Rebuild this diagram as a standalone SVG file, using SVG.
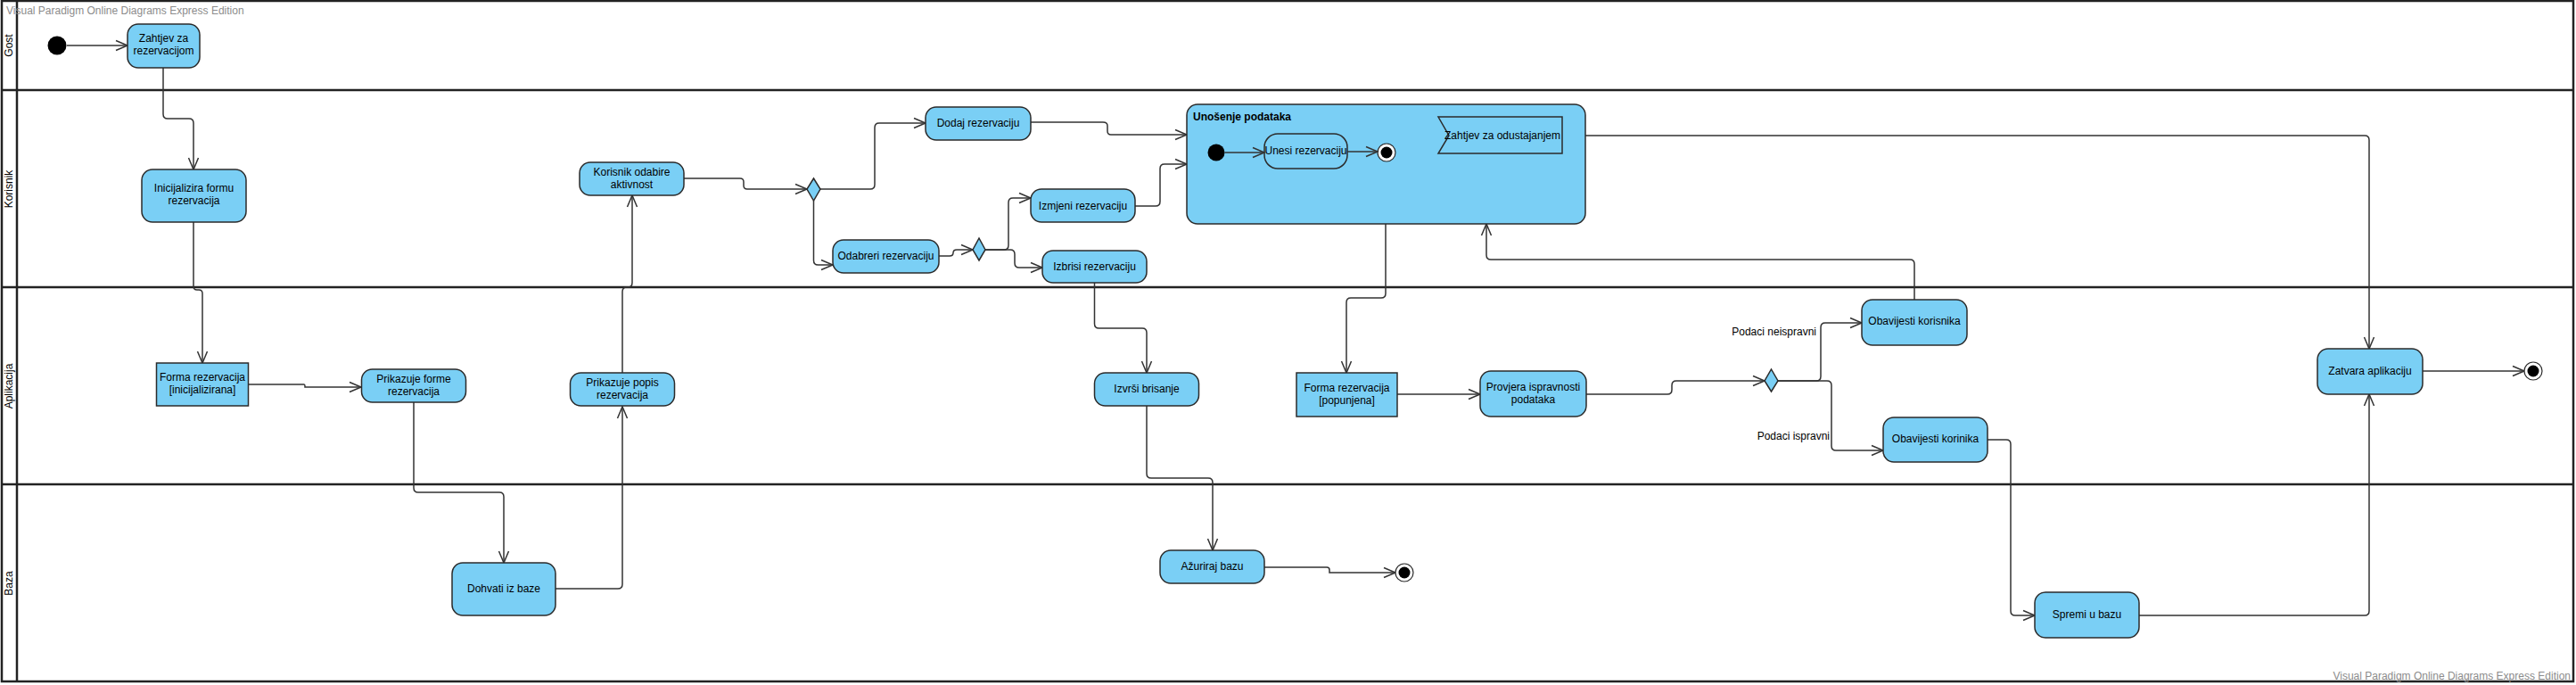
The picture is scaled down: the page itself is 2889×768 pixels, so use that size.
<svg xmlns="http://www.w3.org/2000/svg" width="2889" height="768" viewBox="0 0 2889 768">
<style>
text{font-family:"Liberation Sans",Arial,sans-serif;font-size:12px;fill:#000}
.t{text-anchor:middle;dominant-baseline:central}
.wm{fill:#8c8c8c;font-size:12px}
.lane{fill:none;stroke:#222;stroke-width:2.5}
.lbl{text-anchor:middle;dominant-baseline:central}
.act{fill:#7acff5;stroke:#2b2b2b;stroke-width:1.5}
.init{fill:#000}
.fo{fill:#fff;stroke:#2b2b2b;stroke-width:1.2}
.c{fill:none;stroke:#333;stroke-width:1.5;marker-end:url(#ah)}
</style>
<defs>
<marker id="ah" markerUnits="userSpaceOnUse" markerWidth="16" markerHeight="14" refX="14" refY="7" orient="auto">
<path d="M1 1.5 L14 7 L1 12.5" fill="none" stroke="#333" stroke-width="1.5"/>
</marker>
</defs>
<rect width="2889" height="768" fill="#fff"/>
<g id="lanes">
<rect class="lane" x="2" y="1" width="2884" height="763"/>
<line class="lane" x1="19" y1="1" x2="19" y2="764"/>
<line class="lane" x1="2" y1="101" x2="2886" y2="101"/>
<line class="lane" x1="2" y1="322" x2="2886" y2="322"/>
<line class="lane" x1="2" y1="543" x2="2886" y2="543"/>
<text class="lbl" transform="translate(10 51) rotate(-90)">Gost</text>
<text class="lbl" transform="translate(10 212) rotate(-90)">Korisnik</text>
<text class="lbl" transform="translate(10 433) rotate(-90)">Aplikacija</text>
<text class="lbl" transform="translate(10 654) rotate(-90)">Baza</text>
</g>
<text class="wm" x="7" y="16">Visual Paradigm Online Diagrams Express Edition</text>
<text class="wm" x="2883" y="762" text-anchor="end">Visual Paradigm Online Diagrams Express Edition</text>
<g id="connectors">
<path class="c" d="M75 51 H143"/>
<path class="c" d="M183 76 V128 Q183 133 188 133 H212 Q217 133 217 138 V190"/>
<path class="c" d="M217 249 V321 Q217 325 221 325 H223 Q227 325 227 329 V407"/>
<path class="c" d="M279 431 H341 Q342 431 342 433 V434 H405"/>
<path class="c" d="M464 451 V547 Q464 552 469 552 H560 Q565 552 565 557 V631"/>
<path class="c" d="M623 660 H693 Q698 660 698 655 V456"/>
<path class="c" d="M698 418 V327 Q698 322 703 322 H704 Q709 322 709 317 V219"/>
<path class="c" d="M767 200 H830 Q834 200 834 204 V208 Q834 212 838 212 H905"/>
<path class="c" d="M920 212 H976 Q981 212 981 207 V143 Q981 138 986 138 H1038"/>
<path class="c" d="M912.5 225 V292 Q912.5 297 917.5 297 H934"/>
<path class="c" d="M1053 287 H1065 Q1069 287 1069 283.5 Q1069 280 1073 280 H1091"/>
<path class="c" d="M1105 280 H1126 Q1131 280 1131 275 V227 Q1131 222 1136 222 H1156"/>
<path class="c" d="M1105 280 H1133 Q1138 280 1138 285 V295 Q1138 300 1143 300 H1169"/>
<path class="c" d="M1273 231 H1296 Q1301 231 1301 226 V189 Q1301 184 1306 184 H1331"/>
<path class="c" d="M1156 137 H1237 Q1242 137 1242 141 V147 Q1242 151 1246 151 H1331"/>
<path class="c" d="M1752 152 H2652 Q2657 152 2657 157 V391"/>
<path class="c" d="M2147 336 V296 Q2147 291 2142 291 H1672 Q1667 291 1667 286 V251"/>
<path class="c" d="M1554 251 V329 Q1554 334 1549 334 H1515 Q1510 334 1510 339 V418"/>
<path class="c" d="M1227.5 317 V363 Q1227.5 368 1232.5 368 H1281 Q1286 368 1286 373 V418"/>
<path class="c" d="M1286 455 V531 Q1286 536 1291 536 H1355 Q1360 536 1360 541 V617"/>
<path class="c" d="M1418 636 H1488 Q1491 636 1491 639 V642 H1565"/>
<path class="c" d="M1567 442 H1660"/>
<path class="c" d="M1779 442 H1870 Q1875 442 1875 437 V432 Q1875 427 1880 427 H1979"/>
<path class="c" d="M1994 427 H2037 Q2042 427 2042 422 V367 Q2042 362 2047 362 H2088"/>
<path class="c" d="M1994 427 H2049 Q2054 427 2054 432 V500 Q2054 505 2059 505 H2112"/>
<path class="c" d="M2229 493 H2250 Q2255 493 2255 498 V685 Q2255 690 2260 690 H2282"/>
<path class="c" d="M2399 690 H2652 Q2657 690 2657 685 V442"/>
<path class="c" d="M2717 416 H2831"/>
<text x="2037" y="372" text-anchor="end" dominant-baseline="central">Podaci neispravni</text>
<text x="2052" y="489" text-anchor="end" dominant-baseline="central">Podaci ispravni</text>
</g>
<g id="start1"><circle class="init" cx="64" cy="51" r="10.5"/></g>
<g id="zahtjev"><rect class="act" x="143" y="27" width="81" height="49" rx="12"/><text class="t" x="183.5" y="43">Zahtjev za</text><text class="t" x="183.5" y="57">rezervacijom</text></g>
<g id="inicijalizira"><rect class="act" x="159" y="190" width="117" height="59" rx="12"/><text class="t" x="217.5" y="211">Inicijalizira formu</text><text class="t" x="217.5" y="225">rezervacija</text></g>
<g id="forma-init"><rect class="act" x="175.5" y="407" width="103" height="48"/><text class="t" x="227" y="423">Forma rezervacija</text><text class="t" x="227" y="437">[inicijalizirana]</text></g>
<g id="prikazuje-forme"><rect class="act" x="405.5" y="414" width="117" height="37" rx="12"/><text class="t" x="464" y="425">Prikazuje forme</text><text class="t" x="464" y="439">rezervacija</text></g>
<g id="dohvati"><rect class="act" x="507" y="631" width="116" height="59" rx="12"/><text class="t" x="565" y="660">Dohvati iz baze</text></g>
<g id="prikazuje-popis"><rect class="act" x="639.5" y="418" width="117" height="37" rx="12"/><text class="t" x="698" y="429">Prikazuje popis</text><text class="t" x="698" y="443">rezervacija</text></g>
<g id="korisnik-odabire"><rect class="act" x="650" y="182" width="117" height="37" rx="12"/><text class="t" x="708.5" y="193">Korisnik odabire</text><text class="t" x="708.5" y="207">aktivnost</text></g>
<g id="decision1"><polygon class="act" points="912.5,200 920,212 912.5,225 905,212"/></g>
<g id="dodaj"><rect class="act" x="1038" y="120" width="118" height="37" rx="12"/><text class="t" x="1097" y="138">Dodaj rezervaciju</text></g>
<g id="odabreri"><rect class="act" x="934" y="269" width="119" height="37" rx="12"/><text class="t" x="993.5" y="287">Odabreri rezervaciju</text></g>
<g id="decision2"><polygon class="act" points="1098,267 1105,280 1098,292 1091,280"/></g>
<g id="izmjeni"><rect class="act" x="1156" y="212" width="117" height="37" rx="12"/><text class="t" x="1214.5" y="231">Izmjeni rezervaciju</text></g>
<g id="izbrisi"><rect class="act" x="1169" y="281" width="117" height="36" rx="12"/><text class="t" x="1227.5" y="299">Izbrisi rezervaciju</text></g>
<g id="unosenje">
<rect class="act" x="1331" y="117" width="447" height="134" rx="12"/>
<text x="1338" y="135" font-weight="bold">Unošenje podataka</text>
</g>
<g id="start-inner"><circle class="init" cx="1364" cy="171" r="9.5"/></g>
<g id="unesi"><rect class="act" x="1418" y="150" width="93" height="39" rx="15"/><text class="t" x="1464.5" y="169">Unesi rezervaciju</text></g>
<g id="end-inner"><circle class="fo" cx="1555" cy="171" r="10"/><circle class="init" cx="1555" cy="171" r="6.5"/></g>
<g id="signal"><polygon class="act" points="1613,131 1752,131 1752,172 1613,172 1625,152"/><text class="t" x="1685" y="152">Zahtjev za odustajanjem</text></g>
<g id="inner-connectors">
<path class="c" d="M1373.5 171 H1418"/>
<path class="c" d="M1511 170 H1545"/>
</g>
<g id="izvrsi"><rect class="act" x="1227.5" y="418" width="117" height="37" rx="12"/><text class="t" x="1286" y="436">Izvrši brisanje</text></g>
<g id="azuriraj"><rect class="act" x="1301" y="617" width="117" height="37" rx="12"/><text class="t" x="1359.5" y="635">Ažuriraj bazu</text></g>
<g id="end1"><circle class="fo" cx="1575" cy="642" r="10"/><circle class="init" cx="1575" cy="642" r="6.5"/></g>
<g id="forma-pop"><rect class="act" x="1454" y="418" width="113" height="49"/><text class="t" x="1510.5" y="435">Forma rezervacija</text><text class="t" x="1510.5" y="449">[popunjena]</text></g>
<g id="provjera"><rect class="act" x="1660" y="416" width="119" height="51" rx="12"/><text class="t" x="1719.5" y="434">Provjera ispravnosti</text><text class="t" x="1719.5" y="448">podataka</text></g>
<g id="decision3"><polygon class="act" points="1986.5,414 1994,427 1986.5,439 1979,427"/></g>
<g id="obavijesti-korisnika"><rect class="act" x="2088" y="336" width="118" height="51" rx="12"/><text class="t" x="2147" y="360">Obavijesti korisnika</text></g>
<g id="obavijesti-korinika"><rect class="act" x="2112" y="468" width="117" height="50" rx="12"/><text class="t" x="2170.5" y="492">Obavijesti korinika</text></g>
<g id="spremi"><rect class="act" x="2282" y="664" width="117" height="51" rx="12"/><text class="t" x="2340.5" y="689">Spremi u bazu</text></g>
<g id="zatvara"><rect class="act" x="2599" y="391" width="118" height="51" rx="12"/><text class="t" x="2658" y="416">Zatvara aplikaciju</text></g>
<g id="end2"><circle class="fo" cx="2841" cy="416" r="10"/><circle class="init" cx="2841" cy="416" r="6.5"/></g>
</svg>
